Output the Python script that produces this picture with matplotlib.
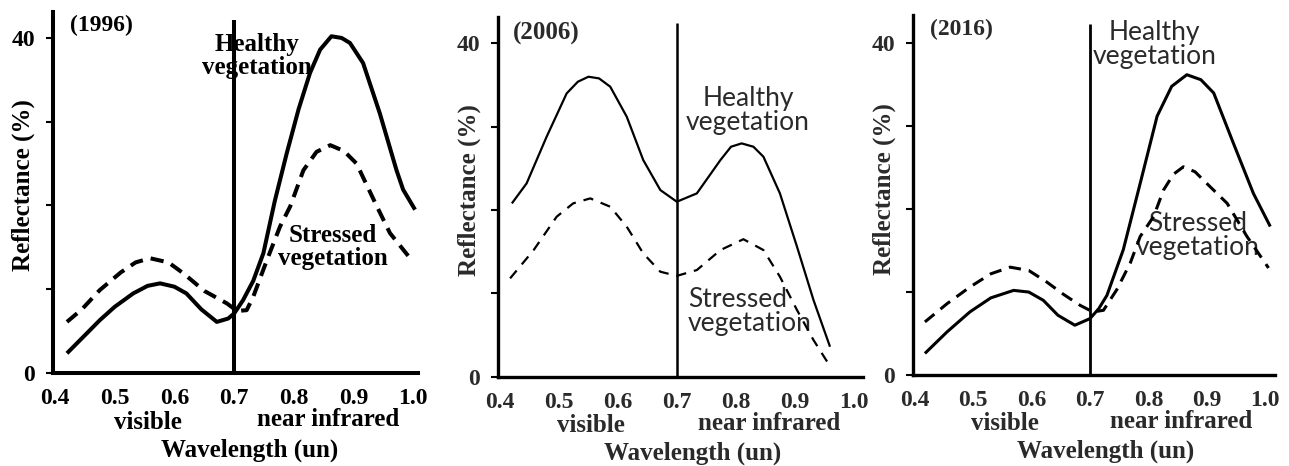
import matplotlib
matplotlib.use("Agg")
import matplotlib.pyplot as plt

# wavelength (um) / reflectance (%)
years = ["(1996)", "(2006)", "(2016)"]

wl_h_1996 = [0.42, 0.45, 0.475, 0.50, 0.531, 0.555, 0.576, 0.60, 0.62, 0.645, 0.671, 0.69, 0.70, 0.715,
             0.732, 0.749, 0.768, 0.788, 0.808, 0.827, 0.844, 0.863, 0.88, 0.894, 0.916, 0.944, 0.972,
             0.983, 1.003]
rf_h_1996 = [2.35, 4.5, 6.3, 7.9, 9.5, 10.4, 10.7, 10.3, 9.5, 7.6, 6.1, 6.5, 7.1, 8.7,
             11.0, 14.3, 20.5, 26.2, 31.5, 35.8, 38.6, 40.2, 40.0, 39.4, 37.0, 31.0, 24.2,
             21.9, 19.5]
wl_s_1996 = [0.42, 0.445, 0.475, 0.51, 0.535, 0.559, 0.59, 0.615, 0.65, 0.688, 0.705, 0.721, 0.732,
             0.755, 0.777, 0.794, 0.816, 0.838, 0.861, 0.884, 0.905, 0.939, 0.961, 0.997]
rf_s_1996 = [6.1, 7.6, 9.9, 12.0, 13.2, 13.7, 13.2, 11.9, 9.8, 8.3, 7.4, 7.5, 9.1,
             13.5, 17.5, 19.9, 24.2, 26.4, 27.2, 26.5, 25.0, 19.9, 16.7, 13.5]

wl_h_2006 = [0.42, 0.445, 0.479, 0.513, 0.532, 0.55, 0.568, 0.587, 0.615, 0.643, 0.672, 0.70, 0.734,
             0.774, 0.792, 0.81, 0.83, 0.847, 0.875, 0.904, 0.932, 0.96]
rf_h_2006 = [20.8, 23.2, 28.8, 34.0, 35.4, 36.0, 35.8, 34.8, 31.2, 26.0, 22.4, 21.0, 22.0,
             26.0, 27.6, 28.0, 27.6, 26.4, 22.0, 15.6, 9.2, 3.6]
wl_s_2006 = [0.417, 0.457, 0.496, 0.524, 0.553, 0.587, 0.615, 0.643, 0.672, 0.70, 0.734, 0.774,
             0.813, 0.847, 0.875, 0.904, 0.932, 0.957]
rf_s_2006 = [11.8, 15.2, 19.2, 20.8, 21.4, 20.4, 18.0, 14.8, 12.6, 12.1, 12.8, 15.2,
             16.5, 15.2, 12.0, 8.0, 4.4, 1.6]

wl_h_2016 = [0.417, 0.455, 0.494, 0.53, 0.569, 0.595, 0.62, 0.645, 0.674, 0.70, 0.715, 0.729,
             0.757, 0.786, 0.815, 0.84, 0.866, 0.89, 0.912, 0.946, 0.98, 1.009]
rf_h_2016 = [2.6, 5.2, 7.6, 9.3, 10.2, 10.0, 9.0, 7.2, 6.0, 6.8, 8.0, 9.6,
             15.1, 23.1, 31.2, 34.8, 36.2, 35.6, 34.0, 27.9, 21.9, 17.9]
wl_s_2016 = [0.417, 0.455, 0.494, 0.53, 0.563, 0.595, 0.626, 0.655, 0.683, 0.705, 0.723, 0.746,
             0.769, 0.786, 0.809, 0.826, 0.843, 0.86, 0.88, 0.90, 0.935, 0.969, 1.006]
rf_s_2016 = [6.4, 8.6, 10.6, 12.2, 13.0, 12.6, 11.2, 9.7, 8.4, 7.6, 7.8, 10.3,
             13.5, 16.7, 19.1, 22.3, 24.2, 25.1, 24.5, 23.1, 20.7, 16.7, 12.9]

xticks = [0.4, 0.5, 0.6, 0.7, 0.8, 0.9, 1.0]
xtick_labels = ["0.4", "0.5", "0.6", "0.7", "0.8", "0.9", "1.0"]
yticks = [0, 10, 20, 30, 40]
ytick_labels = ["0", "", "", "", "40"]
divider = 0.7

SERIF = "Liberation Serif"
SANS = "Lato"

fig = plt.figure(figsize=(12.89, 4.66), dpi=100)

panels = [
    dict(rect=[0.0411, 0.1996, 0.2832, 0.7747], xlim=(0.3966, 1.008), ylim=(0, 43.1),
         h=(wl_h_1996, rf_h_1996), s=(wl_s_1996, rf_s_1996), lw=2.9, dash=(3.3, 2.0), vlw=2.9, spw=2.9,
         year_xy=(0.425, 41.5), year_fs=17, tc="black", lab_font=SERIF, lab_w="bold", lab_fs=18, ls=1.0,
         healthy_xy=(0.738, 37.8), healthy_ha="center",
         stressed_xy=(0.866, 15.0), stressed_ha="center", vtop=42.1),
    dict(rect=[0.3866, 0.1916, 0.2829, 0.7725], xlim=(0.397, 1.016), ylim=(0, 43.2),
         h=(wl_h_2006, rf_h_2006), s=(wl_s_2006, rf_s_2006), lw=1.6, dash=(4.6, 3.6), vlw=1.8, spw=2.4,
         year_xy=(0.422, 41.2), year_fs=18, tc="#2a2a2a", lab_font=SANS, lab_w="normal", lab_fs=19, ls=0.95,
         healthy_xy=(0.821, 32.0), healthy_ha="center",
         stressed_xy=(0.719, 7.8), stressed_ha="left", vtop=42.4),
    dict(rect=[0.7085, 0.1953, 0.2806, 0.7725], xlim=(0.397, 1.017), ylim=(0, 43.4),
         h=(wl_h_2016, rf_h_2016), s=(wl_s_2016, rf_s_2016), lw=2.2, dash=(4.0, 2.6), vlw=2.0, spw=2.4,
         year_xy=(0.426, 41.6), year_fs=17, tc="#2a2a2a", lab_font=SANS, lab_w="normal", lab_fs=19, ls=0.95,
         healthy_xy=(0.81, 39.9), healthy_ha="center",
         stressed_xy=(0.885, 16.8), stressed_ha="center", vtop=42.3),
]

for year, p in zip(years, panels):
    ax = fig.add_axes(p["rect"])
    ax.set_xlim(*p["xlim"])
    ax.set_ylim(*p["ylim"])
    for side in ["top", "right"]:
        ax.spines[side].set_visible(False)
    for side in ["left", "bottom"]:
        ax.spines[side].set_linewidth(p["spw"])
        ax.spines[side].set_color("black")

    ax.plot(*p["h"], color="black", lw=p["lw"], solid_joinstyle="round", solid_capstyle="butt", zorder=3)
    ax.plot(*p["s"], color="black", lw=p["lw"], dashes=p["dash"], dash_joinstyle="round", zorder=3)
    ax.vlines(divider, 0, p["vtop"], color="black", lw=p["vlw"], zorder=3)

    ax.set_xticks(xticks)
    ax.set_xticklabels(xtick_labels, fontfamily=SERIF, fontweight="bold", fontsize=17, color=p["tc"])
    ax.set_yticks(yticks)
    ax.set_yticklabels(ytick_labels, fontfamily=SERIF, fontweight="bold", fontsize=17, color=p["tc"])
    ax.tick_params(axis="x", length=0, pad=11)
    ax.tick_params(axis="y", length=5, width=1.5, pad=8)

    serif = dict(fontfamily=SERIF, fontweight="bold", color=p["tc"], fontsize=18, clip_on=False)
    ax.text(p["year_xy"][0], p["year_xy"][1], year, ha="left", va="center",
            fontfamily=SERIF, fontweight="bold", color=p["tc"], fontsize=p["year_fs"])
    ax.text(0.555, -5.9, "visible", ha="center", va="center", **serif)
    ax.text(0.857, -5.6, "near infrared", ha="center", va="center", **serif)
    ax.text(0.726, -9.2, "Wavelength (un)", ha="center", va="center", **serif)
    ax.text(0.347, 22.4, "Reflectance (%)", ha="center", va="center", rotation=90, **serif)

    lab = dict(fontfamily=p["lab_font"], fontweight=p["lab_w"], color=p["tc"], fontsize=p["lab_fs"],
               va="center", linespacing=p["ls"], zorder=1)
    ax.text(*p["healthy_xy"], "Healthy\nvegetation", ha="center", multialignment="center", **lab)
    ax.text(*p["stressed_xy"], "Stressed\nvegetation", ha=p["stressed_ha"],
            multialignment=p["stressed_ha"], **lab)

fig.savefig("out.png", dpi=100, facecolor="white")
